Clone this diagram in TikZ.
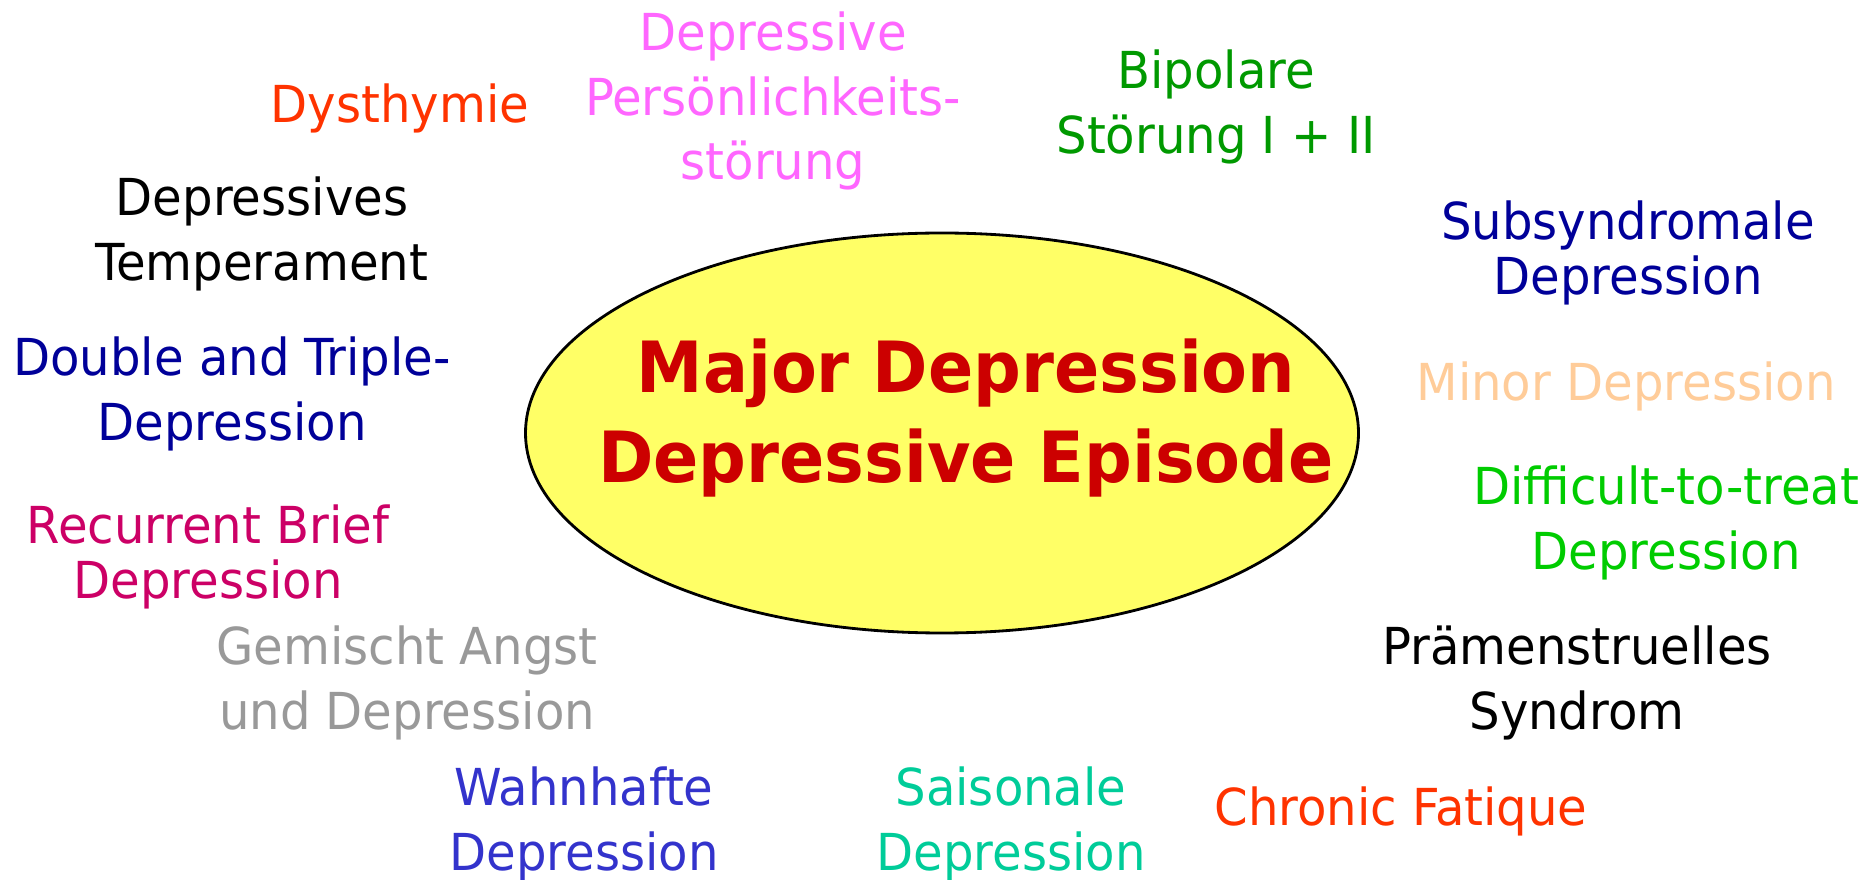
\documentclass[tikz,border=0pt]{standalone}
\usepackage{fontspec}
\setmainfont[FakeStretch=1.05]{DejaVu Sans Condensed}
\usepackage{tikz}
\usetikzlibrary{shapes.geometric,positioning}

\definecolor{titlered}{HTML}{CC0000}
\definecolor{ovalfill}{HTML}{FFFF66}
\definecolor{orred}{HTML}{FF3300}
\definecolor{pinkish}{HTML}{FF66FF}
\definecolor{dkgreen}{HTML}{009900}
\definecolor{navy}{HTML}{000099}
\definecolor{peach}{HTML}{FFCC99}
\definecolor{berry}{HTML}{CC0066}
\definecolor{ltgreen}{HTML}{00CC00}
\definecolor{midgray}{HTML}{999999}
\definecolor{violetblue}{HTML}{3333CC}
\definecolor{teal}{HTML}{00CC99}

\begin{document}
\begin{tikzpicture}[x=0.1mm,y=-0.1mm,
			lbl/.style={align=center, inner sep=0pt, font=\fontsize{14.5}{18.4}\selectfont},
			tight/.style={font=\fontsize{14.5}{15.6}\selectfont},
			oval/.style={ellipse, draw=black, thick, fill=ovalfill, minimum width=8.33cm, minimum height=4cm, inner sep=0pt}]
		\useasboundingbox (0,0) rectangle (1874,880);
		\path 	(942,433) node (mde) [oval] {}
		        (966,418) node (title) [align=center, text=titlered, font=\fontsize{20.1}{25.8}\selectfont\bfseries] {Major Depression\\Depressive Episode};
		\path 	(400,108) node (dys) [lbl, text=orred] {Dysthymie}
		        (773,101) node (dps) [lbl, text=pinkish] {Depressive\\Persönlichkeits-\\störung}
		        (1216,107) node (bip) [lbl, text=dkgreen] {Bipolare\\Störung I + II}
		        (262,234) node (dtm) [lbl, text=black] {Depressives\\Temperament}
		        (1628,253) node (sub) [lbl, tight, text=navy] {Subsyndromale\\Depression}
		        (232,394) node (dtd) [lbl, text=navy] {Double and Triple-\\Depression}
		        (1626,386) node (min) [lbl, text=peach] {Minor Depression}
		        (208,557) node (rbd) [lbl, tight, text=berry] {Recurrent Brief\\Depression}
		        (1666,523) node (dtt) [lbl, text=ltgreen] {Difficult-to-treat\\Depression}
		        (407,683) node (gad) [lbl, text=midgray] {Gemischt Angst\\und Depression}
		        (1577,683) node (pms) [lbl, text=black] {Prämenstruelles\\Syndrom}
		        (584,824) node (wahn) [lbl, text=violetblue] {Wahnhafte\\Depression}
		        (1011,824) node (sais) [lbl, text=teal] {Saisonale\\Depression}
		        (1401,811) node (cfs) [lbl, text=orred] {Chronic Fatique};
	\end{tikzpicture}
\end{document}
